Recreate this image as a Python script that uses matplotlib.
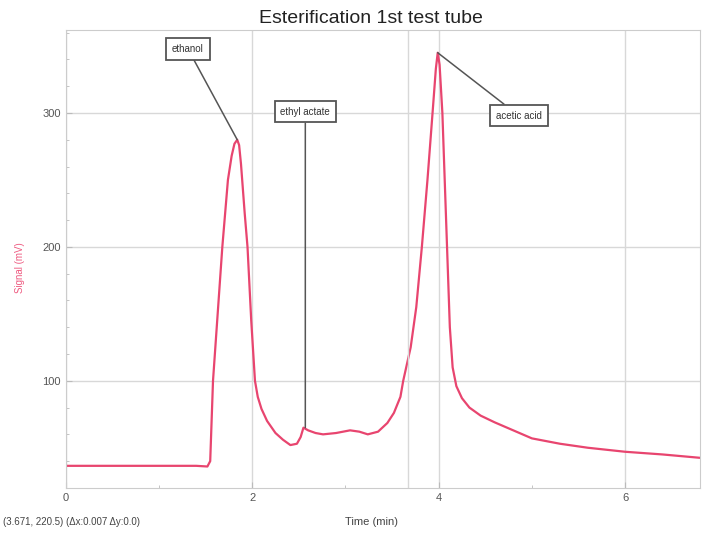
import matplotlib.pyplot as plt
from matplotlib.ticker import MultipleLocator

# 読み取った値
time = [0.0, 0.5, 1.0, 1.4, 1.52, 1.55, 1.58, 1.63, 1.68, 1.74, 1.78, 1.81, 1.84,
        1.86, 1.88, 1.92, 1.95, 1.99, 2.03, 2.06, 2.1, 2.16, 2.25, 2.33, 2.41,
        2.48, 2.52, 2.55, 2.6, 2.68, 2.76, 2.9, 3.05, 3.15, 3.24, 3.35, 3.45,
        3.52, 3.59, 3.62, 3.7, 3.76, 3.82, 3.88, 3.94, 3.97, 3.99, 4.01, 4.04,
        4.09, 4.12, 4.15, 4.19, 4.25, 4.33, 4.45, 4.6, 4.8, 5.0, 5.3, 5.6,
        6.0, 6.4, 6.8]
signal = [36.5, 36.5, 36.5, 36.5, 36, 40, 100, 150, 200, 250, 268, 277, 280,
          276, 262, 225, 200, 145, 100, 88, 79, 70, 61, 56, 52,
          53, 58, 65, 63, 61, 60, 61, 63, 62, 60, 62, 68.5,
          76, 88, 100, 125, 155, 200, 250, 305, 333, 345, 336, 300,
          200, 140, 110, 96, 87, 80, 74, 69, 63, 57, 53, 50,
          47, 45, 42.5]

labels = ['ethanol', 'ethyl actate', 'acetic acid']
label_pts = [(1.84, 280), (2.57, 65), (3.99, 345)]
label_pos = [(1.31, 348), (2.57, 301), (4.86, 298)]

cursor_x = 3.671

fig = plt.figure(figsize=(7.14, 5.35), dpi=100)
ax = fig.add_axes([0.092, 0.088, 0.888, 0.856])

ax.plot(time, signal, color='#e8456f', lw=1.6)

ax.set_xlim(0, 6.8)
ax.set_ylim(20, 362)
ax.xaxis.set_major_locator(MultipleLocator(2))
ax.xaxis.set_minor_locator(MultipleLocator(1))
ax.yaxis.set_major_locator(MultipleLocator(100))
ax.yaxis.set_minor_locator(MultipleLocator(20))
ax.grid(True, which='major', color='#d8d8d8', lw=1)
ax.axvline(cursor_x, color='#d8d8d8', lw=1)
ax.tick_params(which='both', colors='#bbbbbb', labelcolor='#555555', labelsize=8, direction='in')
ax.tick_params(which='major', length=4)
ax.tick_params(which='minor', length=2)
for s in ax.spines.values():
    s.set_color('#cccccc')

fam = ['Liberation Sans', 'DejaVu Sans']
for t in ax.get_xticklabels() + ax.get_yticklabels():
    t.set_family(fam)

fig.text(0.52, 0.965, 'Esterification 1st test tube', ha='center', va='center',
         fontsize=14, family=fam, color='#222222')
fig.text(0.028, 0.5, 'Signal (mV)', rotation=90, ha='center', va='center',
         fontsize=7, family=fam, color='#ee5a80')
fig.text(0.52, 0.024, 'Time (min)', ha='center', va='center',
         fontsize=8, family=fam, color='#444444')
fig.text(0.004, 0.024, '(3.671, 220.5) (\u0394x:0.007 \u0394y:0.0)', ha='left', va='center',
         fontsize=7, family=fam, color='#444444')

for lab, p, q in zip(labels, label_pts, label_pos):
    ax.annotate(lab, xy=p, xytext=q, ha='center', va='center', fontsize=7, family=fam,
                color='#333333',
                bbox=dict(boxstyle='square,pad=0.6', fc='white', ec='#555555', lw=1.3),
                arrowprops=dict(arrowstyle='-', color='#555555', lw=1.1, shrinkA=0, shrinkB=0))

plt.savefig('out.png', dpi=100)
